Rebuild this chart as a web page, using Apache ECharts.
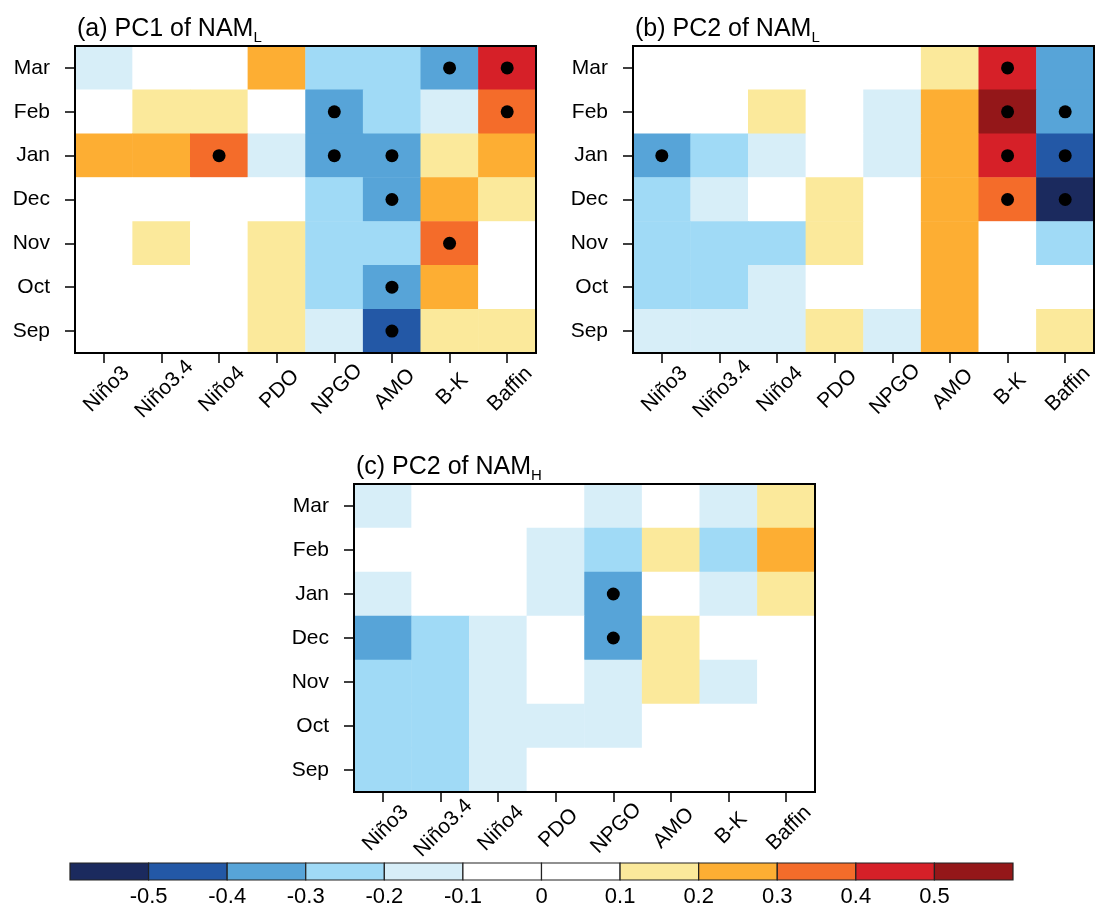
<!DOCTYPE html>
<html>
<head>
<meta charset="utf-8">
<script src="https://cdn.jsdelivr.net/npm/echarts@6/dist/echarts.min.js"></script>
<style>
	html, body { margin: 0; padding: 0; background: #fff; }
	#chart { width: 1104px; height: 920px; }
</style>
</head>
<body>
<div id="chart"></div>
<script>
	const FONT = "Liberation Sans, Arial, sans-serif";

	// columns (indices) and rows (months, top to bottom)
	const indices = ["Niño3", "Niño3.4", "Niño4", "PDO", "NPGO", "AMO", "B-K", "Baffin"];
	const months = ["Mar", "Feb", "Jan", "Dec", "Nov", "Oct", "Sep"];

	// colour bar bins
	const binEdges = [-0.6, -0.5, -0.4, -0.3, -0.2, -0.1, 0, 0.1, 0.2, 0.3, 0.4, 0.5, 0.6];
	const binColors = ["#1b2a5e", "#2358a6", "#57a4d8", "#a0daf6", "#d7eef8", "#ffffff",
		"#ffffff", "#fbe99b", "#fdae33", "#f46c2a", "#d62028", "#941719"];

	// (a) PC1 of NAM_L, rows Mar..Sep
	const pc1L = [
		[-0.13, 0.04, 0.02, 0.24, -0.22, -0.23, -0.34, 0.44],
		[0.03, 0.13, 0.12, 0.05, -0.33, -0.24, -0.14, 0.36],
		[0.26, 0.24, 0.35, -0.12, -0.36, -0.34, 0.16, 0.27],
		[0.02, -0.04, 0.01, 0.06, -0.25, -0.37, 0.26, 0.15],
		[0.04, 0.12, 0.05, 0.14, -0.26, -0.27, 0.38, 0.03],
		[0.01, 0.06, 0.03, 0.13, -0.24, -0.32, 0.27, -0.02],
		[-0.03, 0.02, 0.04, 0.17, -0.16, -0.43, 0.15, 0.14]
	];
	const pc1LSig = [["B-K", "Mar"], ["Baffin", "Mar"], ["NPGO", "Feb"], ["Baffin", "Feb"],
		["Niño4", "Jan"], ["NPGO", "Jan"], ["AMO", "Jan"], ["AMO", "Dec"], ["B-K", "Nov"],
		["AMO", "Oct"], ["AMO", "Sep"]];

	// (b) PC2 of NAM_L
	const pc2L = [
		[0.02, 0.03, -0.04, 0.05, 0.06, 0.15, 0.46, -0.33],
		[0.04, 0.05, 0.12, 0.02, -0.13, 0.25, 0.53, -0.36],
		[-0.34, -0.24, -0.15, -0.05, -0.12, 0.26, 0.45, -0.46],
		[-0.22, -0.13, -0.03, 0.14, 0.04, 0.27, 0.36, -0.55],
		[-0.25, -0.23, -0.21, 0.13, 0.03, 0.25, 0.07, -0.26],
		[-0.26, -0.24, -0.16, 0.05, 0.02, 0.24, 0.05, 0.04],
		[-0.17, -0.14, -0.12, 0.16, -0.13, 0.28, 0.06, 0.13]
	];
	const pc2LSig = [["B-K", "Mar"], ["B-K", "Feb"], ["Baffin", "Feb"], ["Niño3", "Jan"],
		["B-K", "Jan"], ["Baffin", "Jan"], ["B-K", "Dec"], ["Baffin", "Dec"]];

	// (c) PC2 of NAM_H
	const pc2H = [
		[-0.12, -0.04, 0.02, 0.03, -0.14, 0.05, -0.13, 0.16],
		[0.03, -0.02, 0.04, -0.13, -0.22, 0.14, -0.26, 0.27],
		[-0.15, -0.05, 0.02, -0.12, -0.35, -0.03, -0.14, 0.15],
		[-0.33, -0.25, -0.17, 0.04, -0.34, 0.13, 0.03, 0.06],
		[-0.27, -0.23, -0.14, -0.06, -0.12, 0.15, -0.11, 0.02],
		[-0.26, -0.25, -0.13, -0.11, -0.15, 0.05, -0.02, 0.04],
		[-0.28, -0.24, -0.16, -0.07, -0.04, 0.03, 0.02, -0.05]
	];
	const pc2HSig = [["NPGO", "Jan"], ["NPGO", "Dec"]];

	const panels = [
		{ name: "(a) PC1 of NAM", sub: "L", values: pc1L, sig: pc1LSig, grid: { left: 75, top: 46, width: 461, height: 307 } },
		{ name: "(b) PC2 of NAM", sub: "L", values: pc2L, sig: pc2LSig, grid: { left: 633, top: 46, width: 461, height: 307 } },
		{ name: "(c) PC2 of NAM", sub: "H", values: pc2H, sig: pc2HSig, grid: { left: 354, top: 484, width: 461, height: 308 } }
	];

	function toCells(values) {
		const out = [];
		values.forEach((row, r) => {
			row.forEach((v, c) => out.push([indices[c], months[r], v]));
		});
		return out;
	}

	const grids = [], xAxes = [], yAxes = [], titles = [], series = [];

	panels.forEach((p, i) => {
		grids.push(Object.assign({ show: true, z: 5, borderColor: "#000", borderWidth: 2, backgroundColor: "transparent" }, p.grid));
		xAxes.push({
			type: "category", gridIndex: i, data: indices,
			axisLine: { show: false },
			axisTick: { show: true, alignWithLabel: true, length: 10, lineStyle: { color: "#000", width: 1.5 } },
			axisLabel: {
				interval: 0, rotate: 45, align: "center", verticalAlign: "middle", margin: 39,
				padding: [0, 0, 0, 8],
				fontSize: 21, color: "#000", fontFamily: FONT
			},
			splitLine: { show: false }
		});
		yAxes.push({
			type: "category", gridIndex: i, data: months.slice().reverse(),
			axisLine: { show: false },
			axisTick: { show: true, alignWithLabel: true, length: 10, lineStyle: { color: "#000", width: 1.5 } },
			axisLabel: { margin: 25, fontSize: 21, color: "#000", fontFamily: FONT },
			splitLine: { show: false }
		});
		titles.push({
			text: p.name + "{s|" + p.sub + "}",
			left: p.grid.left - 3,
			top: p.grid.top - 34,
			textStyle: {
				fontSize: 25, fontWeight: "normal", color: "#000", fontFamily: FONT,
				rich: { s: { fontSize: 15, verticalAlign: "bottom", fontFamily: FONT, color: "#000", padding: [0, 0, -3, 0] } }
			}
		});
		series.push({
			type: "heatmap", xAxisIndex: i, yAxisIndex: i,
			data: toCells(p.values), z: 2,
			itemStyle: { borderWidth: 0 },
			emphasis: { disabled: true }
		});
	});

	panels.forEach((p, i) => {
		series.push({
			type: "scatter", xAxisIndex: i, yAxisIndex: i,
			data: p.sig, symbol: "circle", symbolSize: 13,
			itemStyle: { color: "#000", opacity: 1 }, z: 4, silent: true
		});
	});

	// colour bar
	grids.push({ left: 70, top: 863, width: 943, height: 17 });
	xAxes.push({
		type: "value", gridIndex: 3, min: -0.6, max: 0.6, interval: 0.1,
		axisLine: { show: false }, axisTick: { show: false }, splitLine: { show: false },
		axisLabel: {
			showMinLabel: false, showMaxLabel: false, margin: 6, fontSize: 22, color: "#000", fontFamily: FONT,
			formatter: v => String(Math.round(v * 10) / 10)
		}
	});
	yAxes.push({ type: "value", gridIndex: 3, min: 0, max: 1, show: false });
	series.push({
		type: "custom", xAxisIndex: 3, yAxisIndex: 3, silent: true,
		data: binColors.map((c, i) => [binEdges[i], binEdges[i + 1], i]),
		renderItem: function (params, api) {
			const p0 = api.coord([api.value(0), 1]);
			const p1 = api.coord([api.value(1), 0]);
			return {
				type: "rect",
				shape: { x: p0[0], y: p0[1], width: p1[0] - p0[0], height: p1[1] - p0[1] },
				style: { fill: binColors[api.value(2)], stroke: "#222", lineWidth: 1.2 }
			};
		}
	});

	const chart = echarts.init(document.getElementById("chart"), null, { renderer: "canvas" });
	chart.setOption({
		animation: false,
		backgroundColor: "#fff",
		title: titles,
		grid: grids,
		xAxis: xAxes,
		yAxis: yAxes,
		visualMap: {
			type: "piecewise", show: false, seriesIndex: [0, 1, 2], dimension: 2,
			pieces: binColors.map((c, i) => ({ gte: binEdges[i], lt: binEdges[i + 1], color: c }))
		},
		series: series
	});
</script>
</body>
</html>
